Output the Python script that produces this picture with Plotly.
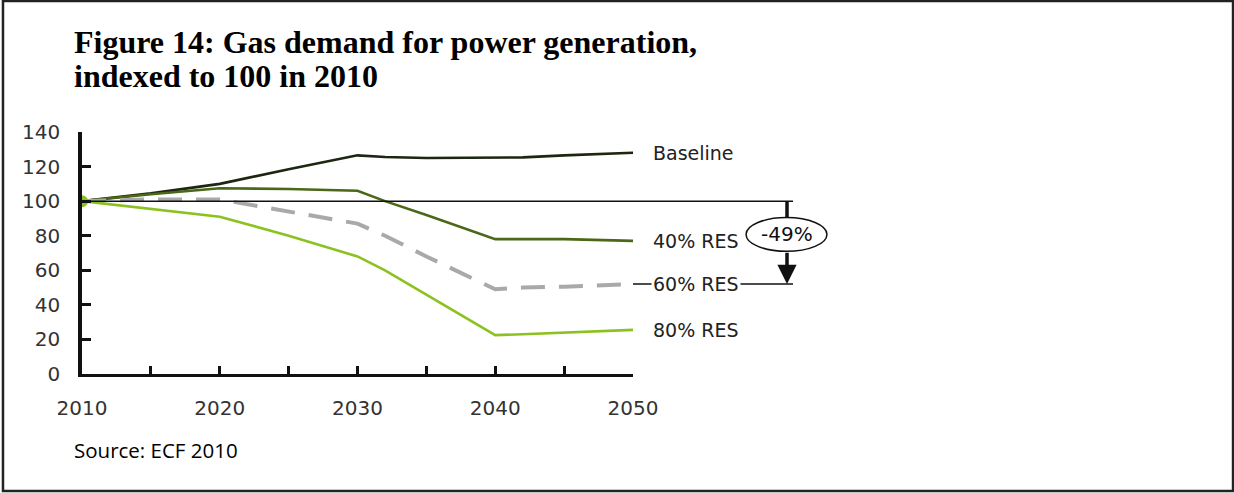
import plotly.graph_objects as go

years = [2010, 2015, 2020, 2025, 2030, 2032, 2035, 2040, 2042, 2045, 2050]
baseline = [100, 104.5, 110, 118.5, 126.5, 125.5, 125, 125, 125.3, 126.5, 128]
res40 = [100, 104, 107.5, 107, 106, 100, 92, 78, 78, 78, 77]
res60 = [100, 101, 101, 94, 87, 80, 68, 49, 50, 50.5, 52]
res80 = [100, 95.5, 91, 80, 68, 60, 46, 22.5, 23, 24, 25.5]

series_names = ["Baseline", "40% RES", "60% RES", "80% RES"]
series_values = [baseline, res40, res60, res80]
series_colors = ["#1c2610", "#4a6818", "#a9a9a9", "#8cc21f"]

xtick_vals = [2010, 2015, 2020, 2025, 2030, 2035, 2040, 2045, 2050]
xtick_text = ["2010", "", "2020", "", "2030", "", "2040", "", "2050"]
ytick_vals = [0, 20, 40, 60, 80, 100, 120, 140]

index_level = 100
reduction_text = "-49%"
title_lines = ["<b>Figure 14: Gas demand for power generation,</b>",
               "<b>indexed to 100 in 2010</b>"]
source_text = "Source: ECF 2010"

fig = go.Figure()

# reference line at 100 extending to the arrow
fig.add_shape(type="line", xref="paper", yref="y", x0=0, x1=1.2904,
              y0=index_level, y1=index_level, line=dict(color="#111", width=1.5))
# connector line at 60% RES end value
fig.add_shape(type="line", xref="paper", yref="y", x0=1.0, x1=1.2904,
              y0=res60[-1], y1=res60[-1], line=dict(color="#111", width=1.5))

for name, vals, col in zip(series_names, series_values, series_colors):
    dash = "24px,14px" if name == "60% RES" else "solid"
    w = 4 if name == "60% RES" else 2.6
    fig.add_trace(go.Scatter(x=years, y=vals, mode="lines", name=name,
                             line=dict(color=col, width=w, dash=dash),
                             hoverinfo="skip"))

# start marker
fig.add_trace(go.Scatter(x=[years[0]], y=[res80[0]], mode="markers",
                         marker=dict(color="#8cc21f", size=12, symbol="circle"),
                         hoverinfo="skip"))

# series end labels
for name, vals in zip(series_names, series_values):
    fig.add_annotation(x=years[-1], y=vals[-1], xref="x", yref="y", text=name,
                       showarrow=False, xanchor="left", yanchor="middle", xshift=18,
                       font=dict(family="DejaVu Sans", size=19, color="#222"),
                       bgcolor="white" if name == "60% RES" else None, borderpad=1)

# arrow: upper segment
ell_y0, ell_y1 = 71.0, 90.5
fig.add_shape(type="line", xref="paper", yref="y", x0=1.2795, x1=1.2795,
              y0=index_level, y1=ell_y1, line=dict(color="#111", width=3.5))
# arrow: lower segment with head
fig.add_annotation(xref="paper", yref="y", x=1.2795, y=res60[-1],
                   axref="pixel", ayref="y", ax=0, ay=ell_y0, text="",
                   showarrow=True, arrowhead=2, arrowsize=1.1, arrowwidth=3.5,
                   arrowcolor="#111")
# ellipse
fig.add_shape(type="circle", xref="paper", yref="y", x0=1.2052, x1=1.352,
              y0=ell_y0, y1=ell_y1, line=dict(color="#111", width=1.5),
              fillcolor="white")
fig.add_annotation(xref="paper", yref="y", x=1.2795, y=(ell_y0 + ell_y1) / 2,
                   xanchor="center", yanchor="middle",
                   text=reduction_text, showarrow=False,
                   font=dict(family="DejaVu Sans", size=20, color="#111"))

# title (two lines)
for line_text, ytop in zip(title_lines, [1.4566, 1.312]):
    fig.add_annotation(xref="paper", yref="paper", x=-0.018, y=ytop, xanchor="left",
                       yanchor="top", text=line_text, showarrow=False, align="left",
                       font=dict(family="Liberation Serif", size=32, color="black"))
# source
fig.add_annotation(xref="paper", yref="paper", x=-0.019, y=-0.314, xanchor="left",
                   yanchor="middle", text=source_text, showarrow=False,
                   font=dict(family="Open Sans", size=20.5, color="black"))

# outer frame
fig.add_shape(type="rect", xref="paper", yref="paper", x0=-0.1434, x1=2.089,
              y0=-0.4835, y1=1.5413, line=dict(color="#222", width=2.5))

fig.update_layout(
    width=1234, height=493,
    margin=dict(l=82, r=601, t=132, b=119),
    plot_bgcolor="white", paper_bgcolor="white",
    showlegend=False,
    xaxis=dict(range=[2010, 2050], tickvals=xtick_vals, ticktext=xtick_text,
               ticks="inside", ticklen=8, tickwidth=2.5, tickcolor="#111",
               showline=True, linecolor="#111", linewidth=3, showgrid=False,
               zeroline=False, ticklabelstandoff=14,
               tickfont=dict(family="DejaVu Sans", size=20, color="#333")),
    yaxis=dict(range=[0, 140], tickvals=ytick_vals,
               ticks="inside", ticklen=9, tickwidth=2.5, tickcolor="#111",
               showline=True, linecolor="#111", linewidth=3.5, showgrid=False,
               zeroline=False, ticklabelstandoff=14,
               tickfont=dict(family="DejaVu Sans", size=20, color="#333")),
)

fig.write_html("out.html", config={"displayModeBar": False},
               post_script="document.body.style.margin='0';document.body.style.overflow='hidden';")
